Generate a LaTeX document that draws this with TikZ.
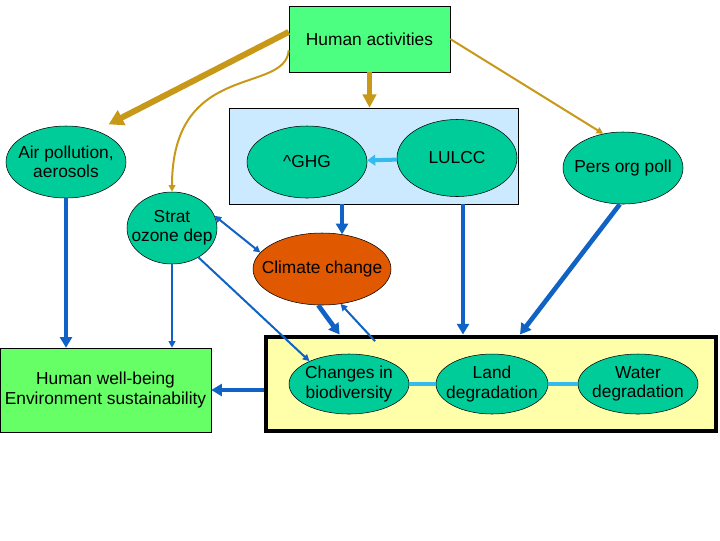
\documentclass[tikz,border=0pt]{standalone}
\usepackage{fontspec}
\setmainfont{Liberation Sans}
\usetikzlibrary{shapes.geometric,arrows.meta}

\definecolor{ovalgreen}{RGB}{0,204,153}
\definecolor{actgreen}{RGB}{77,255,128}
\definecolor{wellgreen}{RGB}{102,255,102}
\definecolor{gasblue}{RGB}{204,234,255}
\definecolor{impyellow}{RGB}{255,255,170}
\definecolor{climorange}{RGB}{224,88,0}
\definecolor{arrgold}{RGB}{200,152,24}
\definecolor{arrblue}{RGB}{16,98,196}
\definecolor{linkblue}{RGB}{51,187,238}

\begin{document}
\begin{tikzpicture}[
x=0.75pt,y=-0.75pt,
every node/.style={
align=center,
font=\fontsize{13}{14.6}\selectfont
},
oval/.style={
ellipse,
draw,
fill=ovalgreen,
inner sep=0pt,
minimum width=90pt,
minimum height=54pt
},
panel/.style={
draw,
inner sep=0pt
},
goldfat/.style={arrgold,line width=4.5pt,-{Triangle[length=11pt,width=12pt]}},
goldmid/.style={arrgold,line width=4pt,-{Triangle[length=10pt,width=10pt]}},
goldthin/.style={arrgold,line width=1.5pt,-{Triangle[length=5pt,width=5pt]}},
bluefat/.style={arrblue,line width=3.5pt,-{Triangle[length=8pt,width=9pt]}},
bluethin/.style={arrblue,line width=1.5pt,-{Triangle[length=5pt,width=5pt]}}
]

\useasboundingbox (0,0) rectangle (720,540);

\node[panel,fill=actgreen,minimum width=120.75pt,minimum height=49.5pt] (act) at (369.5,39)
{Human activities};

\node[panel,fill=gasblue,minimum width=216.75pt,minimum height=72pt] (gas) at (373.5,156)
{};

\node[oval,label={center:\textasciicircum GHG}] (ghg) at (307,162)
{};

\node[oval,minimum height=57.75pt,label={center:LULCC}] (lulcc) at (457,158)
{};

\node[oval,label={center:Air pollution,\\aerosols}] (air) at (66,162)
{};

\node[oval,label={center:Pers org poll}] (pers) at (623,168)
{};

\node[oval,minimum width=67.5pt,label={center:Strat\\ozone dep}] (strat) at (172,228)
{};

\node[oval,fill=climorange,minimum width=103.5pt,label={center:Climate change}] (clim) at (322,269)
{};

\node[panel,fill=wellgreen,minimum width=158.25pt,minimum height=63pt] (well) at (105.5,390)
{Human well-being\\Environment sustainability};

\node[panel,fill=impyellow,line width=3pt,minimum width=337.5pt,minimum height=70.5pt] (imp) at (490.5,383.5)
{};

\node[oval,minimum height=45pt,label={center:Changes in\\biodiversity}] (bio) at (349,384)
{};

\node[oval,minimum width=84pt,minimum height=45pt,label={center:Land\\degradation}] (land) at (492,384)
{};

\node[oval,minimum height=45pt,label={center:Water\\degradation}] (water) at (638,384)
{};

% human activities
\draw[goldfat] (act.175) -- ([yshift=9pt]air.north east);
\draw[goldmid] (act.south) -- (act.south |- gas.north);
\draw[goldthin] (act.east) -- (pers.120);
\draw[goldthin] (act.188) .. controls (285,95) and (172,60) .. (strat.north);

% drivers
\draw[linkblue,line width=3pt,-{Triangle[length=6pt,width=8pt]}] (lulcc) -- (ghg);
\draw[bluefat] (clim.60 |- gas.south) -- (clim.60);
\draw[bluefat] (air.south) -- (air.south |- well.north);
\draw[bluethin] (strat.south) -- (strat.south |- well.north);
\draw[bluethin,{Triangle[length=5pt,width=5pt]}-{Triangle[length=5pt,width=5pt]}] (strat.16) -- (clim.165);
\draw[bluethin] (strat.-48) -- (bio.150);
\draw[bluefat] (clim.-96) -- (imp.162.6);
\draw[bluethin] ([yshift=-5pt]imp.157) -- (clim.-62);
\draw[bluefat] ([xshift=4.5pt]lulcc.south |- gas.south) -- ([xshift=4.5pt]lulcc.south |- imp.north);
\draw[bluefat] (pers.-95) -- (imp.59);
\draw[bluefat] (imp.west |- well.east) -- (well.east);

% impacts
\draw[linkblue,line width=3pt] (bio) -- (land);
\draw[linkblue,line width=3pt] (land) -- (water);

\end{tikzpicture}
\end{document}
